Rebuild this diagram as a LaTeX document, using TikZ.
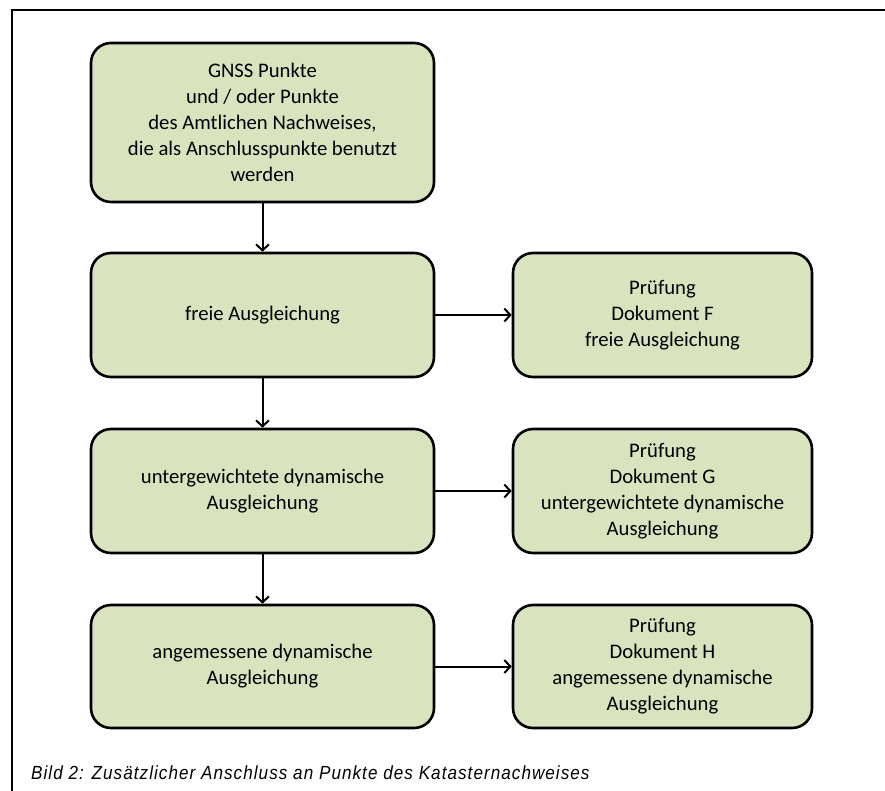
\documentclass[tikz,border=0pt]{standalone}
\usepackage{fontspec}
\setmainfont{Carlito}
\newfontfamily\capfont[FakeStretch=0.9,LetterSpace=5.5]{Liberation Sans}
\usetikzlibrary{arrows.meta}
\definecolor{boxgreen}{HTML}{D7E4BD}
\tikzset{
  stepbox/.style={draw=black,line width=2.6pt,fill=boxgreen,rounded corners=20pt,
    align=center,inner sep=4pt,font=\fontsize{20.7}{26}\selectfont},
  leftbox/.style={stepbox,minimum width=343pt},
  checkbox/.style={stepbox,minimum width=299pt,minimum height=124pt},
  flow/.style={line width=2pt,-{Straight Barb[length=6pt,width=13pt]}}
}
\begin{document}
\begin{tikzpicture}[x=1pt,y=-1pt]
\useasboundingbox(0,0)rectangle(885,791);
\draw[line width=2pt](12,791)--(12,10)--(885,10);
\node[leftbox,minimum height=159pt](gnss)at(262.5,122.5){GNSS Punkte\\und / oder Punkte\\des Amtlichen Nachweises,\\die als Anschlusspunkte benutzt\\werden};
\node[leftbox,minimum height=124pt](frei)at(262.5,315){freie Ausgleichung};
\node[leftbox,minimum height=124pt](unter)at(262.5,491){untergewichtete dynamische\\Ausgleichung};
\node[leftbox,minimum height=123pt](angem)at(262.5,666.5){angemessene dynamische\\Ausgleichung};
\node[checkbox](dokF)at(662.5,315){Prüfung\\Dokument F\\freie Ausgleichung};
\node[checkbox](dokG)at(662.5,491){Prüfung\\Dokument G\\untergewichtete dynamische\\Ausgleichung};
\node[checkbox,minimum height=123pt](dokH)at(662.5,666.5){Prüfung\\Dokument H\\angemessene dynamische\\Ausgleichung};
\draw[flow](gnss)--(frei);
\draw[flow](frei)--(unter);
\draw[flow](unter)--(angem);
\draw[flow](frei)--(dokF);
\draw[flow](unter)--(dokG);
\draw[flow](angem)--(dokH);
\node[anchor=base west,inner sep=0pt,font=\capfont\itshape\fontsize{19}{22}\selectfont](caption)at(31,779){Bild 2: Zusätzlicher Anschluss an Punkte des Katasternachweises};
\end{tikzpicture}
\end{document}
